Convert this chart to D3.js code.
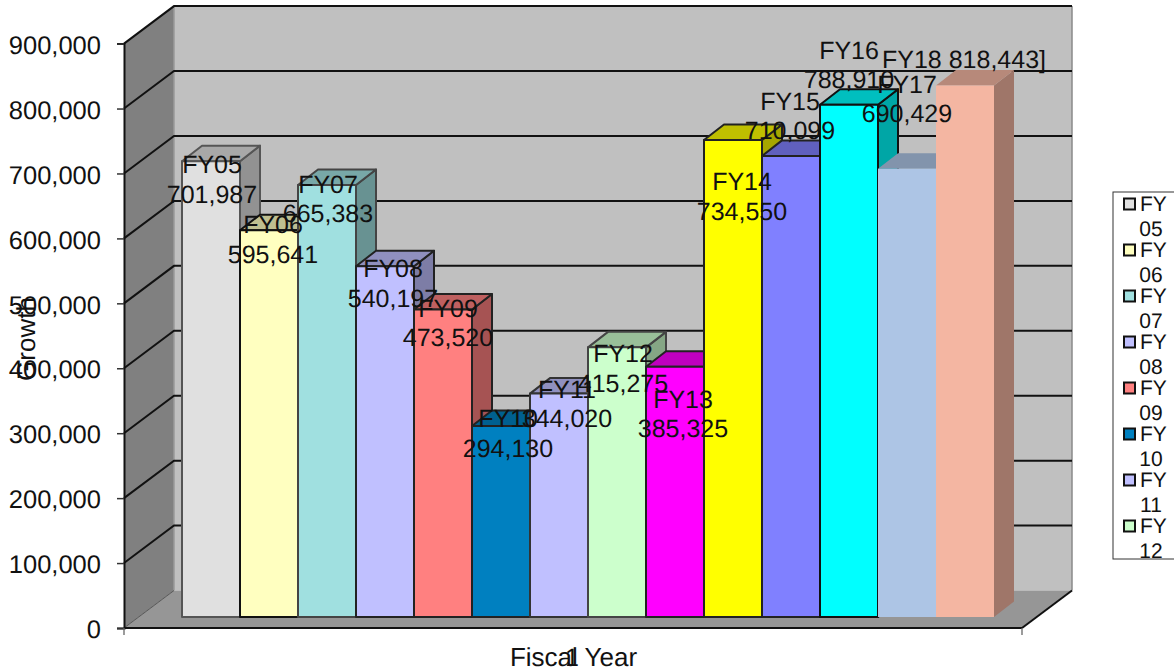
<!DOCTYPE html>
<html lang="en">

<head>
    <meta charset="utf-8">
    <title>Growth by fiscal year</title>
    <script src="https://d3js.org/d3.v7.min.js"></script>
    <style type="text/css">
        html, body { margin: 0; padding: 0; background: #fff; overflow: hidden; }
        svg { display: block; }
        text { font-family: "Liberation Sans", Arial, sans-serif; fill: #111; text-rendering: geometricPrecision; }
    </style>
</head>

<body>
    <script type="text/javascript">

        // Data
        var years = ["FY05", "FY06", "FY07", "FY08", "FY09", "FY10", "FY11",
            "FY12", "FY13", "FY14", "FY15", "FY16", "FY17", "FY18"];
        var growth = [701987, 595641, 665383, 540197, 473520, 294130, 344020,
            415275, 385325, 734550, 710099, 788910, 690429, 818443];
        var barColors = ["#E0E0E0", "#FFFFC0", "#A0E0E0", "#C0C0FF", "#FF8080", "#0080C0", "#C0C0FF",
            "#CCFFCC", "#FF00FF", "#FFFF00", "#8080FF", "#00FFFF", "#ADC5E5", "#F4B6A2"];
        var barOutlines = ["#555", "#111", "#444", "#222", "#222", "#222", "#333",
            "#444", "#222", "#222", "#222", "#111", "none", "none"];
        var yTicks = [0, 100000, 200000, 300000, 400000, 500000, 600000, 700000, 800000, 900000];
        var legendYears = years.slice(0, 8);

        // Hand placed data labels, offset from top centre of each bar
        var labelDx = [1, 4, 1, 8, 5, 7, 8, 6, 8, 9, -1, 0, 0, -1];
        var labelDy = [12, 3, 8, 11, 7, 1, 4, 15, 41, 50, -46, -46, -76, -18];

        var w = 1174,
            h = 672,
            left = 124, right = 1022,       // front edge of the floor
            depthX = 50, depthY = -37.5,    // wall depth
            barDepthX = 20, barDepthY = -15.5,
            barShiftY = -11,                // bars stand a little behind the front edge
            sideShade = 0.65,
            topShade = 0.75,
            fontSize = 25,
            tickSize = 25.5,
            titleSize = 26,
            fmt = d3.format(",");

        var y = d3.scaleLinear().domain([0, 900000]).range([628, 43.6]);
        var x = d3.scaleBand().domain(years).range([182, 994]);

        var svg = d3.select("body")
            .append("svg")
            .attr("width", w)
            .attr("height", h);

        function poly(sel, pts, fill, stroke, sw) {
            return sel.append("polygon")
                .attr("points", pts.map(function (p) { return p.join(","); }).join(" "))
                .attr("fill", fill)
                .attr("stroke", stroke || "none")
                .attr("stroke-width", sw || 0)
                .attr("stroke-linejoin", "round");
        }

        function shade(c, k) {
            return d3.rgb(c.r * k, c.g * k, c.b * k);
        }

        // Walls and floor
        var box = svg.append("g");
        poly(box, [[left + depthX, y(900000) + depthY], [right + depthX, y(900000) + depthY],
            [right + depthX, y(0) + depthY], [left + depthX, y(0) + depthY]], "#C0C0C0");
        poly(box, [[left, y(900000)], [left + depthX, y(900000) + depthY],
            [left + depthX, y(0) + depthY], [left, y(0)]], "#808080");
        poly(box, [[left, y(0)], [left + depthX, y(0) + depthY],
            [right + depthX, y(0) + depthY], [right, y(0)]], "#969696");

        box.append("line")
            .attr("x1", left + depthX).attr("x2", left + depthX)
            .attr("y1", y(900000) + depthY).attr("y2", y(0) + depthY)
            .attr("stroke", "#9a9a9a").attr("stroke-width", 1.5);
        box.append("line")
            .attr("x1", right + depthX).attr("x2", right + depthX)
            .attr("y1", y(900000) + depthY).attr("y2", y(0) + depthY)
            .attr("stroke", "#8a8a8a").attr("stroke-width", 1.5);

        // Gridlines run along the left wall, then across the back wall
        box.selectAll(".grid").data(yTicks.slice(1))
            .enter()
            .append("polyline")
            .attr("class", "grid")
            .attr("points", function (d) {
                return [left, y(d), left + depthX, y(d) + depthY, right + depthX, y(d) + depthY].join(",");
            })
            .attr("fill", "none")
            .attr("stroke", "#111")
            .attr("stroke-width", 2);

        box.append("line")
            .attr("x1", left).attr("x2", left + depthX)
            .attr("y1", y(0)).attr("y2", y(0) + depthY)
            .attr("stroke", "#555").attr("stroke-width", 1);

        // Axes
        var yAxis = svg.append("g")
            .attr("transform", "translate(" + left + ",0)")
            .call(d3.axisLeft(y).tickValues(yTicks).tickFormat(fmt).tickSize(7).tickPadding(16));
        yAxis.select(".domain").attr("stroke", "#111").attr("stroke-width", 2);
        yAxis.selectAll(".tick line").attr("stroke", "#333").attr("stroke-width", 1.5);
        yAxis.selectAll("text")
            .attr("font-size", tickSize)
            .attr("font-family", "Liberation Sans, Arial, sans-serif")
            .attr("dy", "0.38em")
            .attr("fill", "#111");

        box.append("line")
            .attr("x1", left).attr("x2", right)
            .attr("y1", y(0)).attr("y2", y(0))
            .attr("stroke", "#111").attr("stroke-width", 2);
        box.append("line")
            .attr("x1", right).attr("x2", right + depthX)
            .attr("y1", y(0)).attr("y2", y(0) + depthY)
            .attr("stroke", "#111").attr("stroke-width", 2);
        svg.selectAll(".xtick").data([left, right])
            .enter()
            .append("line")
            .attr("class", "xtick")
            .attr("x1", function (d) { return d; })
            .attr("x2", function (d) { return d; })
            .attr("y1", y(0))
            .attr("y2", y(0) + 7)
            .attr("stroke", "#666")
            .attr("stroke-width", 1.3);

        // Bars, painted left to right so each one covers its neighbour's side face
        years.forEach(function (year, i) {
            var x0 = x(year),
                x1 = x0 + x.bandwidth(),
                top = y(growth[i]) + barShiftY,
                base = y(0) + barShiftY,
                color = d3.rgb(barColors[i]),
                stroke = barOutlines[i],
                sw = stroke === "none" ? 0 : 2,
                g = svg.append("g").attr("class", "bar");

            poly(g, [[x1, top], [x1 + barDepthX, top + barDepthY],
                [x1 + barDepthX, base + barDepthY], [x1, base]],
                shade(color, sideShade), stroke, sw);
            poly(g, [[x0, top], [x0 + barDepthX, top + barDepthY],
                [x1 + barDepthX, top + barDepthY], [x1, top]],
                shade(color, topShade), stroke, sw);
            poly(g, [[x0, top], [x1, top], [x1, base], [x0, base]], color, stroke, sw);
        });

        // Data labels go on top of every bar
        var lineGap = 29.5;
        var labels = svg.selectAll(".label").data(years)
            .enter()
            .append("text")
            .attr("class", "label")
            .attr("text-anchor", "middle")
            .attr("font-size", fontSize)
            .attr("transform", function (d, i) {
                var cx = x(d) + x.bandwidth() / 2 + labelDx[i],
                    cy = y(growth[i]) + barShiftY + labelDy[i];
                return "translate(" + cx + "," + cy + ")";
            });
        labels.each(function (d, i) {
            var t = d3.select(this);
            if (d === "FY18") {
                t.text(d + " " + fmt(growth[i]) + "]");
                return;
            }
            t.append("tspan").attr("x", 0).attr("y", 0).text(d);
            t.append("tspan").attr("x", 0).attr("y", lineGap).text(fmt(growth[i]));
        });

        // Axis titles and the lone category label
        svg.append("text")
            .attr("x", 573.5)
            .attr("y", 666)
            .attr("text-anchor", "middle")
            .attr("font-size", titleSize)
            .text("Fiscal Year");
        svg.append("text")
            .attr("x", 572)
            .attr("y", 666)
            .attr("text-anchor", "middle")
            .attr("font-size", fontSize)
            .text("1");
        svg.append("text")
            .attr("transform", "translate(35,339) rotate(-90)")
            .attr("text-anchor", "middle")
            .attr("font-size", titleSize)
            .text("Growth");

        // Legend, its box runs off the right side of the page
        var legendTop = 192, legendStep = 46, legendSize = 21;
        svg.append("rect")
            .attr("x", 1113)
            .attr("y", legendTop)
            .attr("width", 80)
            .attr("height", 367)
            .attr("fill", "#fff")
            .attr("stroke", "#333")
            .attr("stroke-width", 1);

        var legend = svg.selectAll(".legend").data(legendYears)
            .enter()
            .append("g")
            .attr("class", "legend")
            .attr("transform", function (d, i) {
                return "translate(0," + (legendTop + i * legendStep) + ")";
            });
        legend.append("rect")
            .attr("x", 1124)
            .attr("y", 6.5)
            .attr("width", 11)
            .attr("height", 11)
            .attr("fill", function (d, i) { return barColors[i]; })
            .attr("stroke", "#111")
            .attr("stroke-width", 2);
        legend.append("text")
            .attr("x", 1140)
            .attr("y", 19)
            .attr("font-size", legendSize)
            .text(function (d) { return d.slice(0, 2); });
        legend.append("text")
            .attr("x", 1151)
            .attr("y", 44)
            .attr("text-anchor", "middle")
            .attr("font-size", legendSize)
            .text(function (d) { return d.slice(2); });

    </script>
</body>

</html>
